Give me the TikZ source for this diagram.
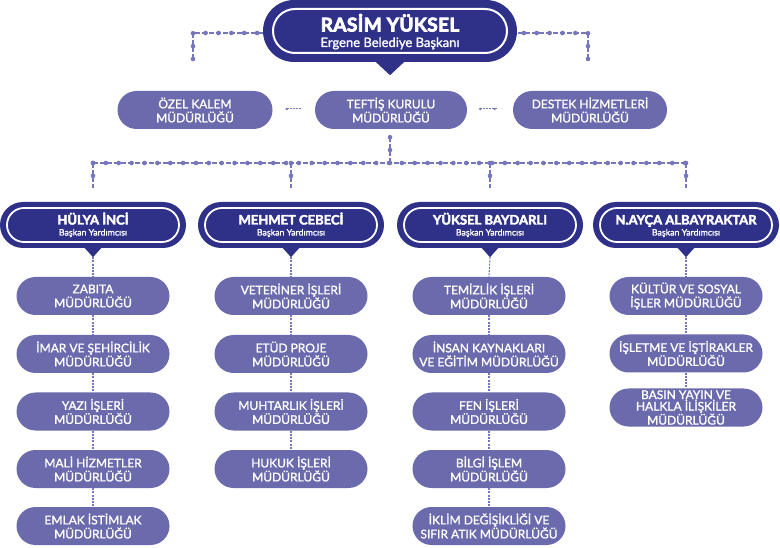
\documentclass[tikz,border=0pt]{standalone}
\usepackage{fontspec}
\setmainfont{Lato}
\newfontfamily\medfont{Lato}[FakeBold=1.3]
\newfontfamily\heavyfont{Lato}[FakeBold=3, BoldFeatures={FakeBold=3}]
\newfontfamily\titlefont{Lato}[LetterSpace=2, FakeBold=4, BoldFeatures={FakeBold=4}]
\usetikzlibrary{calc}
\definecolor{navy}{RGB}{46,49,135}
\definecolor{lilac}{RGB}{106,106,172}
\definecolor{lc}{RGB}{118,118,188}
\tikzset{
  pill/.style={fill=lilac, rounded corners=19pt, minimum width=153pt, minimum height=38pt, inner sep=0pt, text=white, align=center, font=\medfont\fontsize{12}{14}\selectfont},
  deputy/.style={fill=navy, rounded corners=23pt, minimum width=186pt, minimum height=46pt, inner sep=0pt},
  innerline/.style={draw=white, line width=1.8pt, rounded corners=17pt, minimum width=172pt, minimum height=34pt, inner sep=0pt},
  dotline/.style={draw=lc, line width=1.3pt, dash pattern=on 5pt off 2pt, postaction={draw=lc, line width=4.6pt, line cap=round, dash pattern=on 0pt off 12.87pt}},
  thindash/.style={draw=lc, line width=1.1pt, dash pattern=on 2pt off 1.2pt},
  shortlink/.style={draw=lc, line width=1pt, dash pattern=on 2pt off 1pt, postaction={draw=lc, line width=2.6pt, line cap=round, dash pattern=on 0pt off 14.4pt}},
  namefont/.style={text=white, font=\heavyfont\bfseries\fontsize{13}{14}\selectfont, anchor=base},
  subfont/.style={text=white, font=\medfont\fontsize{8.8}{9}\selectfont, anchor=base},
}
\begin{document}
\begin{tikzpicture}[x=1pt,y=-1pt]
\useasboundingbox (0,0) rectangle (780,548);
% top box
\node[fill=navy, rounded corners=31pt, minimum width=254pt, minimum height=62pt, inner sep=0pt] (top) at (390,31) {};
\fill[navy] ($(top.south)+(-15,-1)$) -- ($(top.south)+(15,-1)$) -- ($(top.south)+(0,13)$) -- cycle;
\node[draw=white, line width=2pt, rounded corners=22pt, minimum width=234pt, minimum height=44pt, inner sep=0pt] (topin) at (390,31) {};
\node[text=white, font=\titlefont\bfseries\fontsize{19}{20}\selectfont, anchor=base] (topname) at (390,31.5) {RASİM YÜKSEL};
\node[text=white, font=\medfont\fontsize{13}{14}\selectfont, anchor=base] (toptitle) at (390,47) {Ergene Belediye Başkanı};
% top side connectors
\coordinate (tl) at (193,59);
\coordinate (tr) at (588,59);
\draw[dotline] (tl) -- (tl |- 0,33) -- (top.west |- 0,33);
\draw[dotline] (tr) -- (tr |- 0,33) -- (top.east |- 0,33);
% second row
\node[pill, minimum width=155pt] (ozel) at (195,110) {ÖZEL KALEM\\MÜDÜRLÜĞÜ};
\node[pill, minimum width=152pt] (teftis) at (391,110) {TEFTİŞ KURULU\\MÜDÜRLÜĞÜ};
\node[pill, minimum width=154pt] (destek) at (590,110) {DESTEK HİZMETLERİ\\MÜDÜRLÜĞÜ};
\draw[shortlink] ($(ozel.east)+(14,-1)$) -- ($(teftis.west)+(-14,-1)$);
\draw[shortlink] ($(teftis.east)+(13,-1)$) -- ($(destek.west)+(-16,-1)$);
% hub
\coordinate (hub) at (390,163);
\coordinate (tstart) at ($(teftis.south)+(-1,8)$);
\draw[dotline] (tstart) -- (tstart |- hub);
% deputies
\foreach \n/\x/\name in {d1/93/HÜLYA İNCİ, d2/291/MEHMET CEBECİ, d3/490/YÜKSEL BAYDARLI, d4/686/N.AYÇA ALBAYRAKTAR}{
  \node[deputy] (\n) at (\x,225) {};
  \fill[navy] ($(\n.south)+(-9,-1)$) -- ($(\n.south)+(9,-1)$) -- ($(\n.south)+(0,9)$) -- cycle;
  \node[innerline] (\n in) at (\x,225) {};
  \node[namefont] (\n name) at (\x,224.5) {\name};
  \node[subfont] (\n sub) at (\x,235.5) {Başkan Yardımcısı};
  \coordinate (\n tip) at ($(\n.south)+(0,9)$);
  \coordinate (\n top) at (\x,188);
}
\draw[dotline] (d1top |- hub) -- (d4top |- hub);
\foreach \n in {d1,d2,d3,d4}{
  \draw[dotline] (\n top |- hub) -- (\n top);
}
% children column 1
\node[pill] (c11) at (93,296) {ZABITA\\MÜDÜRLÜĞÜ};
\node[pill] (c12) at (93,354) {İMAR VE ŞEHİRCİLİK\\MÜDÜRLÜĞÜ};
\node[pill] (c13) at (93,411.5) {YAZI İŞLERİ\\MÜDÜRLÜĞÜ};
\node[pill] (c14) at (93,469) {MALİ HİZMETLER\\MÜDÜRLÜĞÜ};
\node[pill] (c15) at (93,526) {EMLAK İSTİMLAK\\MÜDÜRLÜĞÜ};
% column 2
\node[pill] (c21) at (291,296) {VETERİNER İŞLERİ\\MÜDÜRLÜĞÜ};
\node[pill] (c22) at (291,354) {ETÜD PROJE\\MÜDÜRLÜĞÜ};
\node[pill] (c23) at (291,411.5) {MUHTARLIK İŞLERİ\\MÜDÜRLÜĞÜ};
\node[pill] (c24) at (291,469) {HUKUK İŞLERİ\\MÜDÜRLÜĞÜ};
% column 3
\node[pill] (c31) at (489,296) {TEMİZLİK İŞLERİ\\MÜDÜRLÜĞÜ};
\node[pill] (c32) at (489,354) {İNSAN KAYNAKLARI\\VE EĞİTİM MÜDÜRLÜĞÜ};
\node[pill] (c33) at (489,411.5) {FEN İŞLERİ\\MÜDÜRLÜĞÜ};
\node[pill] (c34) at (489,469) {BİLGİ İŞLEM\\MÜDÜRLÜĞÜ};
\node[pill] (c35) at (489,526) {İKLİM DEĞİŞİKLİĞİ VE\\SIFIR ATIK MÜDÜRLÜĞÜ};
% column 4
\node[pill] (c41) at (686,296) {KÜLTÜR VE SOSYAL\\İŞLER MÜDÜRLÜĞÜ};
\node[pill] (c42) at (686,353.5) {İŞLETME VE İŞTİRAKLER\\MÜDÜRLÜĞÜ};
\node[pill, font=\medfont\fontsize{12}{11.5}\selectfont] (c43) at (686,407.5) {BASIN YAYIN VE\\HALKLA İLİŞKİLER\\MÜDÜRLÜĞÜ};
% child connectors
\draw[thindash] (d1tip) -- (c11.north);
\draw[thindash] (c11) -- (c12); \draw[thindash] (c12) -- (c13);
\draw[thindash] (c13) -- (c14); \draw[thindash] (c14) -- (c15);
\draw[thindash] (d2tip) -- (c21.north);
\draw[thindash] (c21) -- (c22); \draw[thindash] (c22) -- (c23);
\draw[thindash] (c23) -- (c24);
\draw[thindash] (d3tip) -- (c31.north);
\draw[thindash] (c31) -- (c32); \draw[thindash] (c32) -- (c33);
\draw[thindash] (c33) -- (c34); \draw[thindash] (c34) -- (c35);
\draw[thindash] (d4tip) -- (c41.north);
\draw[thindash] (c41) -- (c42); \draw[thindash] (c42) -- (c43);
\end{tikzpicture}
\end{document}
